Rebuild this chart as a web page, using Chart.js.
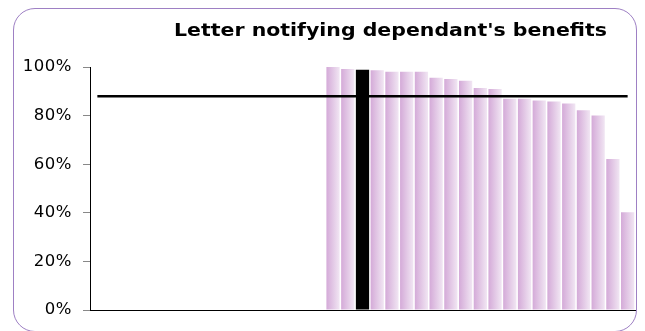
<!DOCTYPE html>
<html>
<head>
<meta charset="utf-8">
<script src="https://cdn.jsdelivr.net/npm/chart.js@4"></script>
<style>
  html, body { margin: 0; padding: 0; background: #fff; }
  #wrap { position: relative; width: 645px; height: 331px; overflow: hidden; }
  #frame { position: absolute; left: 13px; top: 8px; width: 624px; height: 324px;
           border: 1px solid #9E80C4; border-radius: 22px; box-sizing: border-box; }
  #title { position: absolute; left: 150px; top: 20px; width: 481px; text-align: center;
           font: bold 17.5px "DejaVu Sans", Verdana, sans-serif;
           transform: scaleX(1.17); transform-origin: 50% 50%;
           color: #000; white-space: nowrap; }
  canvas { position: absolute; left: 0; top: 0; }
</style>
</head>
<body>
<div id="wrap">
  <div id="frame"></div>
  <canvas id="c" width="645" height="331"></canvas>
  <div id="title">Letter notifying dependant's benefits</div>
</div>
<script>
// 16 empty slots, then 21 bars
const categories = Array(37).fill("");
const values = [
  null, null, null, null, null, null, null, null,
  null, null, null, null, null, null, null, null,
  100, 99.2, 98.9, 98.7, 98, 98, 98, 95.6, 95.1, 94.3, 91.4, 91,
  86.9, 86.9, 86.2, 85.8, 85, 82.2, 80.1, 62.2, 40.2
];
const highlightIndex = 18;
const average = Array(37).fill(88);
const yTicks = [0, 20, 40, 60, 80, 100];

function barFill(ctx) {
  if (ctx.dataIndex === highlightIndex) return "#000";
  const chart = ctx.chart;
  const xs = chart.scales.x;
  if (!xs || !chart.chartArea || xs.width == null) return "#DFC0E3";
  const c = xs.getPixelForValue(ctx.dataIndex);
  const w = xs.width / categories.length * 0.9;
  const g = chart.ctx.createLinearGradient(c - w / 2, 0, c + w / 2, 0);
  g.addColorStop(0, "#D4AAD8");
  g.addColorStop(1, "#F1E6F3");
  return g;
}

// a touch of letter spacing for the tick labels (Verdana-like look)
const spacing = {
  id: "spacing",
  beforeDraw(chart) { chart.ctx.letterSpacing = "0.5px"; },
};

new Chart(document.getElementById("c"), {
  data: {
    labels: categories,
    datasets: [
      {
        type: "line",
        data: average,
        borderColor: "#000",
        borderWidth: 2.5,
        pointRadius: 0,
        fill: false,
        order: 0,
      },
      {
        type: "bar",
        data: values,
        backgroundColor: barFill,
        borderWidth: 0,
        barPercentage: 0.9,
        categoryPercentage: 1,
        order: 1,
      },
    ],
  },
  plugins: [spacing],
  options: {
    responsive: false, animation: false, devicePixelRatio: 1,
    layout: { padding: { left: 0, right: 10, top: 67, bottom: 0 } },
    plugins: { legend: { display: false }, tooltip: { enabled: false } },
    scales: {
      x: {
        ticks: { display: false },
        grid: { display: false },
        border: { color: "#000", width: 1 },
        afterFit: s => { s.height = 18; },
      },
      y: {
        min: 0, max: 100,
        afterBuildTicks: s => { s.ticks = yTicks.map(v => ({ value: v })); },
        ticks: {
          callback: v => v + "%",
          color: "#000",
          padding: 11,
          font: { family: "DejaVu Sans", size: 16.5 },
        },
        grid: { drawOnChartArea: false, drawTicks: true, tickLength: 7, color: "#888" },
        border: { color: "#000", width: 1 },
        afterFit: s => { s.width = 90; },
      },
    },
  },
});
</script>
</body>
</html>
